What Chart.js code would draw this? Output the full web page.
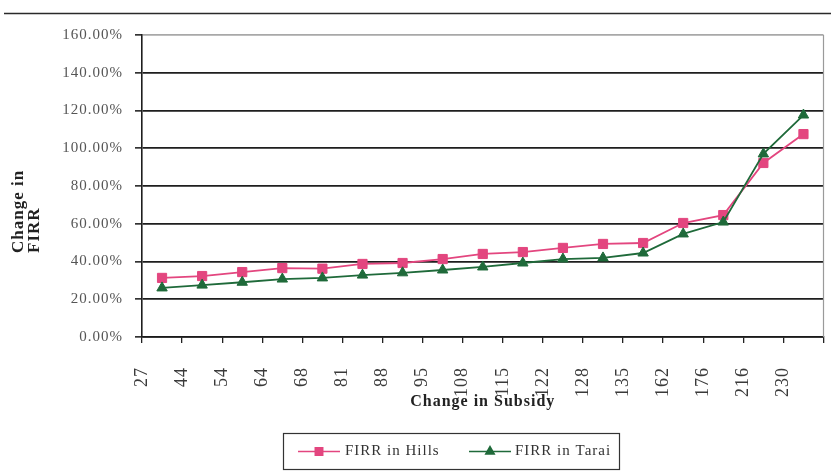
<!DOCTYPE html>
<html>
<head>
<meta charset="utf-8">
<script src="https://cdn.jsdelivr.net/npm/chart.js@4.4.1/dist/chart.umd.min.js"></script>
<style>
  html, body { margin: 0; padding: 0; background: #fff; }
  #wrap { width: 831px; height: 471px; }
</style>
</head>
<body>
<div id="wrap"><canvas id="c" width="831" height="471"></canvas></div>
<script>
// Change in subsidy (categories) and resulting change in FIRR, in percent
const subsidyLabels = ['27', '44', '54', '64', '68', '81', '88', '95', '108', '115', '122', '128', '135', '162', '176', '216', '230'];
const firrHills = [31.3, 32.3, 34.4, 36.5, 36.2, 38.7, 39.2, 41.3, 44.0, 45.0, 47.2, 49.3, 49.8, 60.4, 64.6, 92.2, 107.5];
const firrTarai = [26.0, 27.5, 29.0, 30.7, 31.3, 32.8, 34.0, 35.5, 37.1, 39.2, 41.3, 41.9, 44.5, 54.6, 60.9, 97.0, 117.6];
const yTickValues = [0, 20, 40, 60, 80, 100, 120, 140, 160];

const HILLS_COLOR = '#e3467f';
const TARAI_COLOR = '#1f6a3a';
const SERIF = '"Liberation Serif", "Times New Roman", serif';

Chart.defaults.font.family = SERIF;

// slightly airy lettering, as in the printed figure
const spacing = {
  id: 'spacing',
  beforeUpdate(chart) { chart.ctx.letterSpacing = '1px'; },
  beforeDraw(chart) { chart.ctx.letterSpacing = '1px'; }
};

// page rule, right frame of the plot, vertical axis title and boxed legend
const decorations = {
  id: 'decorations',
  afterDraw(chart) {
    const ctx = chart.ctx;
    const area = chart.chartArea;
    ctx.save();

    // rule across the top of the page
    ctx.strokeStyle = '#2a2a2a';
    ctx.lineWidth = 1.5;
    ctx.beginPath();
    ctx.moveTo(4, 13.5);
    ctx.lineTo(831, 13.5);
    ctx.stroke();

    // light right edge of the plot frame
    ctx.strokeStyle = '#9a9a9a';
    ctx.lineWidth = 1.2;
    ctx.beginPath();
    ctx.moveTo(area.right, area.top);
    ctx.lineTo(area.right, area.bottom);
    ctx.stroke();

    // vertical axis title, two lines reading upward
    ctx.fillStyle = '#222';
    ctx.font = 'bold 17px ' + SERIF;
    ctx.textAlign = 'left';
    ctx.textBaseline = 'middle';
    [['Change in', 19], ['FIRR', 35]].forEach(([txt, x]) => {
      ctx.save();
      ctx.translate(x, 253);
      ctx.rotate(-Math.PI / 2);
      ctx.fillText(txt, 0, 0);
      ctx.restore();
    });

    // legend
    const box = { x: 283.5, y: 433.5, w: 336, h: 36 };
    ctx.strokeStyle = '#333';
    ctx.lineWidth = 1.2;
    ctx.strokeRect(box.x, box.y, box.w, box.h);
    const cy = box.y + box.h / 2;
    const items = [
      { ds: chart.data.datasets[0], x0: 298, textX: 345 },
      { ds: chart.data.datasets[1], x0: 469, textX: 515 }
    ];
    ctx.font = '15px ' + SERIF;
    items.forEach(({ ds, x0, textX }) => {
      ctx.strokeStyle = ds.borderColor;
      ctx.lineWidth = 1.6;
      ctx.beginPath();
      ctx.moveTo(x0, cy);
      ctx.lineTo(x0 + 42, cy);
      ctx.stroke();
      Chart.helpers.drawPoint(ctx, {
        pointStyle: ds.pointStyle,
        radius: ds.pointRadius * 0.8,
        borderWidth: 1
      }, x0 + 21, cy);
      ctx.fillStyle = ds.backgroundColor;
      ctx.fill();
      ctx.fillStyle = '#333';
      ctx.fillText(ds.label, textX, cy);
    });
    ctx.restore();
  }
};

new Chart(document.getElementById('c'), {
  type: 'line',
  data: {
    labels: subsidyLabels,
    datasets: [
      {
        label: 'FIRR in Hills',
        data: firrHills,
        borderColor: HILLS_COLOR,
        backgroundColor: HILLS_COLOR,
        pointStyle: 'rect',
        pointRadius: 6.5,
        pointBorderWidth: 1,
        borderWidth: 1.8,
        tension: 0,
        order: 1
      },
      {
        label: 'FIRR in Tarai',
        data: firrTarai,
        borderColor: TARAI_COLOR,
        backgroundColor: TARAI_COLOR,
        pointStyle: 'triangle',
        pointRadius: 6,
        pointBorderWidth: 1,
        borderWidth: 1.8,
        tension: 0,
        order: 0
      }
    ]
  },
  options: {
    responsive: false,
    devicePixelRatio: 1,
    animation: false,
    layout: { padding: { top: 35, right: 3, bottom: 60, left: 0 } },
    plugins: {
      legend: { display: false },
      tooltip: { enabled: false }
    },
    scales: {
      x: {
        type: 'category',
        offset: true,
        display: false
      },
      x2: {
        type: 'category',
        position: 'bottom',
        labels: [...subsidyLabels, ''],
        offset: false,
        ticks: {
          autoSkip: false,
          minRotation: 90,
          maxRotation: 90,
          color: '#3a3a3a',
          font: { size: 18 },
          padding: 24
        },
        grid: { drawOnChartArea: false, color: '#222', tickLength: 6, lineWidth: 1.3 },
        border: { color: '#1a1a1a', width: 1.6 },
        title: {
          display: true,
          text: 'Change in Subsidy',
          color: '#222',
          font: { size: 16, weight: 'bold' },
          padding: 0
        },
        afterFit(axis) {
          axis.height = 74;
          axis.paddingLeft = 0;
          axis.paddingRight = 0;
        }
      },
      y: {
        min: 0,
        max: 160,
        afterBuildTicks(axis) {
          axis.ticks = yTickValues.map(v => ({ value: v }));
        },
        ticks: {
          color: '#555',
          font: { size: 15 },
          padding: 12,
          callback: v => v.toFixed(2) + '%'
        },
        grid: {
          color: c => (c.tick && c.tick.value === 160 ? '#a8a8a8' : '#1e1e1e'),
          tickColor: '#333',
          lineWidth: 1.7,
          tickLength: 7
        },
        border: { color: '#1e1e1e', width: 1.6 },
        afterFit(axis) {
          axis.width = 142;
        }
      }
    }
  },
  plugins: [spacing, decorations]
});
</script>
</body>
</html>
